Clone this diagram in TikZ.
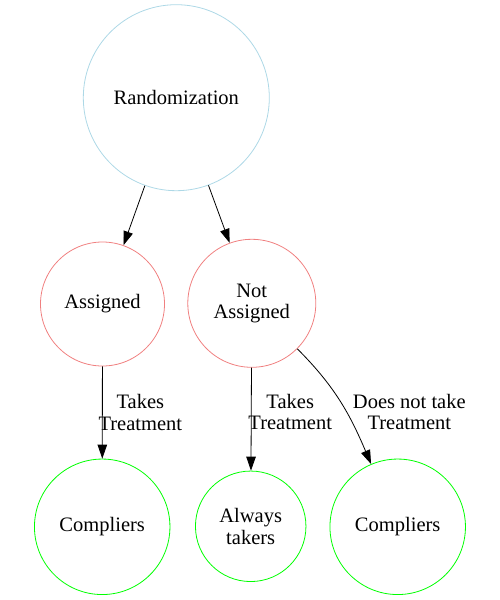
\documentclass[tikz,border=0pt]{standalone}
\usepackage{fontspec}
\setmainfont{Liberation Serif}
\usepackage{xcolor}
\usepackage{tikz}
\usetikzlibrary{arrows.meta}

\definecolor{lightblue}{HTML}{ADD8E6}
\definecolor{lightcoral}{HTML}{F08080}
\definecolor{pgreen}{HTML}{00FF00}

\begin{document}
\begin{tikzpicture}[x=1pt, y=-1pt,
  state/.style={draw, circle, line width=0.8pt, inner sep=0pt, align=center, font=\fontsize{20.5}{21.5}\selectfont},
  root/.style={state, draw=lightblue, minimum size=186pt},
  arm/.style={state, draw=lightcoral},
  group/.style={state, draw=pgreen},
  lbl/.style={align=center, inner sep=0pt, font=\fontsize{20.5}{21.5}\selectfont},
  arrow/.style={-{Triangle[length=14pt,width=9.5pt]}, line width=0.8pt}]
  \useasboundingbox (0,0) rectangle (500,600);
  \node[root] (rand) at (176.3,97.7) {Randomization};
  \node[arm, minimum size=124pt] (assigned) at (102.5,304) {Assigned};
  \node[arm, minimum size=128pt] (notassigned) at (251.8,303.3) {Not\\Assigned};
  \node[group, minimum size=135.5pt] (compliersA) at (102.2,526.8) {Compliers};
  \node[group, minimum size=110.5pt] (always) at (250.7,526.3) {Always\\takers};
  \node[group, minimum size=135.5pt] (compliersB) at (397.7,526.8) {Compliers};
  \draw[arrow] (rand) -- (assigned);
  \draw[arrow] (rand) -- (notassigned);
  \draw[arrow] (assigned) -- node[lbl, xshift=38pt] {Takes\\Treatment} (compliersA);
  \draw[arrow] (notassigned) -- node[lbl, xshift=39pt, yshift=7pt] {Takes\\Treatment} (always);
  \draw[arrow] (notassigned) to[out=-45, in=113]
    node[lbl, anchor=west, xshift=12pt, yshift=-10pt] {Does not take\\Treatment} (compliersB);
\end{tikzpicture}
\end{document}
